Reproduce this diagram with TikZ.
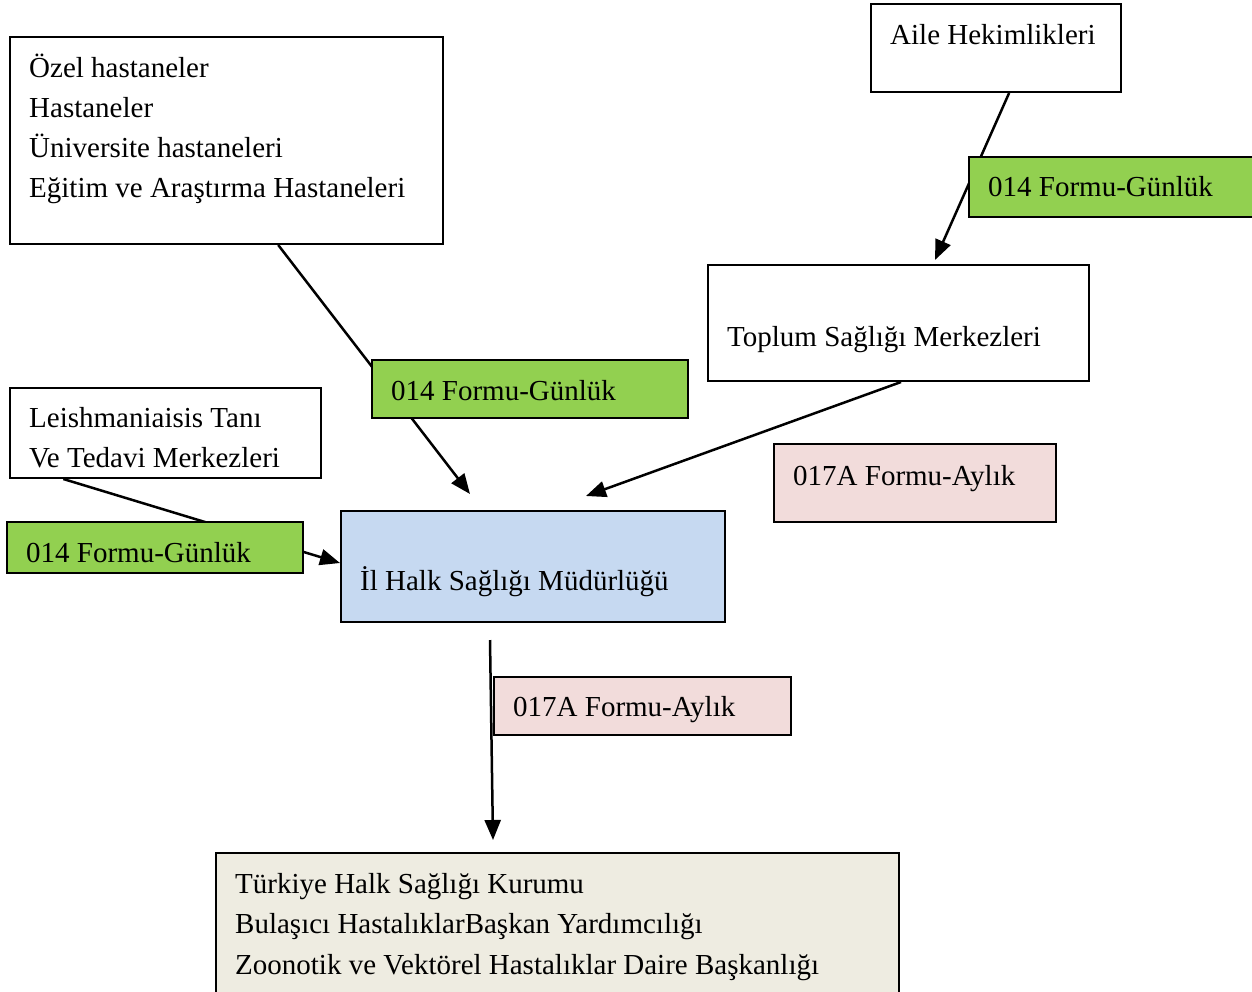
\documentclass[tikz,border=0pt]{standalone}
\usepackage{fontspec}
\setmainfont{Liberation Serif}
\usetikzlibrary{arrows.meta,calc}
\definecolor{gbox}{HTML}{92D050}
\definecolor{pbox}{HTML}{F2DCDB}
\definecolor{bbox}{HTML}{C6D9F1}
\definecolor{ybox}{HTML}{EEECE1}
\begin{document}
\begin{tikzpicture}[x=1pt,y=-1pt,
  box/.style={draw=black,line width=2pt,anchor=north west,inner sep=0pt},
  txt/.style={anchor=west,inner sep=0pt,text height=0.7em,text depth=0.25em,font=\fontsize{29}{40}\selectfont,yshift=-8pt},
  conn/.style={line width=2.5pt},
  arr/.style={conn,-{Triangle[length=20pt,width=16pt]}}]
\useasboundingbox (0,0) rectangle (1252,991);
% boxes
\node[box,fill=white,minimum width=433pt,minimum height=207pt] (ozel) at (9,36) {};
\node[box,fill=white,minimum width=250pt,minimum height=88pt] (aile) at (870,3) {};
\node[box,fill=white,minimum width=381pt,minimum height=116pt] (tsm) at (707,264) {};
\node[box,fill=white,minimum width=311pt,minimum height=90pt] (leish) at (9,387) {};
\node[box,fill=bbox,minimum width=384pt,minimum height=111pt] (il) at (340,510) {};
\node[box,fill=ybox,minimum width=683pt,minimum height=145pt] (tr) at (215,852) {};
% connector end points
\coordinate (a1) at (470,494);
\coordinate (a2) at (935,260);
\coordinate (a3) at (586,496);
\coordinate (a4) at (340,563);
\coordinate (a5) at (493,840);
\coordinate (s5) at (490,640);
% connectors
\draw[arr] ($(ozel.south west)!0.6189!(ozel.south east)$) -- (a1);
\draw[arr] ($(aile.south west)!0.552!(aile.south east)$) -- (a2);
\draw[arr] ($(tsm.south west)!0.5066!(tsm.south east)$) -- (a3);
\draw[arr] ($(leish.south west)!0.1736!(leish.south east)$) -- (a4);
\draw[arr] (s5) -- (a5);
% label boxes on top
\node[box,fill=gbox,minimum width=284pt,minimum height=60pt] (g1) at (968,156) {};
\node[box,fill=gbox,minimum width=316pt,minimum height=58pt] (g2) at (371,359) {};
\node[box,fill=gbox,minimum width=296pt,minimum height=51pt] (g3) at (6,521) {};
\node[box,fill=pbox,minimum width=282pt,minimum height=78pt] (p1) at (773,443) {};
\node[box,fill=pbox,minimum width=297pt,minimum height=58pt] (p2) at (493,676) {};
% texts
\node[txt] (t1) at (29,67) {Özel hastaneler};
\node[txt] (t2) at (29,107) {Hastaneler};
\node[txt] (t3) at (29,147) {Üniversite hastaneleri};
\node[txt] (t4) at (29,187) {Eğitim ve Araştırma Hastaneleri};
\node[txt] (t5) at (890,34) {Aile Hekimlikleri};
\node[txt] (t6) at (988,186) {014 Formu-Günlük};
\node[txt] (t7) at (727,336) {Toplum Sağlığı Merkezleri};
\node[txt] (t8) at (391,390) {014 Formu-Günlük};
\node[txt] (t9) at (29,417) {Leishmaniaisis Tanı};
\node[txt] (t10) at (29,457) {Ve Tedavi Merkezleri};
\node[txt] (t11) at (793,475) {017A Formu-Aylık};
\node[txt] (t12) at (26,552) {014 Formu-Günlük};
\node[txt] (t13) at (360,580) {İl Halk Sağlığı Müdürlüğü};
\node[txt] (t14) at (513,706) {017A Formu-Aylık};
\node[txt] (t15) at (235,883) {Türkiye Halk Sağlığı Kurumu};
\node[txt] (t16) at (235,923) {Bulaşıcı HastalıklarBaşkan Yardımcılığı};
\node[txt] (t17) at (235,964) {Zoonotik ve Vektörel Hastalıklar Daire Başkanlığı};
\end{tikzpicture}
\end{document}
